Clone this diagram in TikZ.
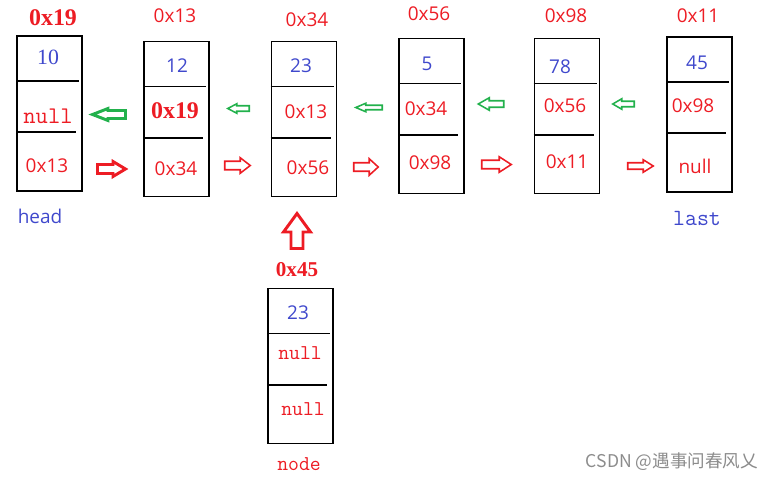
\documentclass[tikz,border=0pt]{standalone}
\usepackage{fontspec}
\setmainfont{Liberation Serif}
\setsansfont{Open Sans}
\newfontfamily\simfont{Latin Modern Mono}
\newfontfamily\cjk{Noto Sans CJK SC}
\usetikzlibrary{positioning}
\definecolor{pred}{RGB}{237,28,36}
\definecolor{pgreen}{RGB}{34,177,76}
\definecolor{pblue}{RGB}{63,72,204}
\tikzset{
	box/.style={draw,line width=1.3pt,minimum width=1.625cm,minimum height=3.875cm,inner sep=0},
	sep/.style={line width=1.3pt},
	val/.style={font=\sffamily\fontsize{13.5}{15}\selectfont,text=pblue},
	addr/.style={font=\sffamily\fontsize{13.5}{15}\selectfont,text=pred},
	baddr/.style={font=\bfseries\fontsize{17}{19}\selectfont,text=pred},
	word/.style={font=\simfont\fontsize{17}{19}\selectfont},
	back/.style={draw=pgreen,line width=1.1pt,xscale=-1},
	next/.style={draw=pred,line width=1.1pt},
	fat/.style={line width=2.1pt}
}
% block arrow: style, centre, length, head width, shaft width, head length
\newcommand{\blkarrow}[6]{%
	\begin{scope}[shift={#2}]
		\draw[#1] (-#3/2,-#5/2) -- (#3/2-#6,-#5/2) -- (#3/2-#6,-#4/2) -- (#3/2,0)
			-- (#3/2-#6,#4/2) -- (#3/2-#6,#5/2) -- (-#3/2,#5/2) -- cycle;
	\end{scope}}
\begin{document}
\begin{tikzpicture}[x=0.025cm,y=-0.025cm]
	\useasboundingbox (0,0) rectangle (782,480);
	%%%nodes of the list
	\node[box] (b1) at (49.5,113.5) {};
	\node[box] (b2) at (176.5,119) {};
	\node[box] (b3) at (304,119) {};
	\node[box] (b4) at (431.5,116) {};
	\node[box] (b5) at (567,116) {};
	\node[box] (b6) at (699.5,114.5) {};
	\node[box] (b7) at (300.5,366) {};
	\foreach \b in {b1,b2,b3,b4,b5,b6,b7}{
		\draw[sep] ([yshift=-1.15cm]\b.north west) -- ++(63,0);
		\draw[sep] ([yshift=-2.425cm]\b.north west) -- ++(60,0);
	}

	%%%addresses
	\node[baddr] (a1) at (53,18) {0x19};
	\node[addr] (a2) at (175,16) {0x13};
	\node[addr] (a3) at (307,20) {0x34};
	\node[addr] (a4) at (429,14) {0x56};
	\node[addr] (a5) at (566,16) {0x98};
	\node[addr] (a6) at (698,16) {0x11};
	\node[baddr,font=\bfseries\fontsize{15}{17}\selectfont] (a7) at (297,270) {0x45};

	%%%cells
	\node[text=pblue,font=\fontsize{15.5}{17}\selectfont] (d1) at (48,57) {10};
	\node[word,text=pred] (p1) at (48,116) {null};
	\node[addr] (n1) at (47,166) {0x13};
	\node[val] (d2) at (177,66) {12};
	\node[baddr] (p2) at (175,111) {0x19};
	\node[addr] (n2) at (176,169) {0x34};
	\node[val] (d3) at (301,66) {23};
	\node[addr] (p3) at (306,112) {0x13};
	\node[addr] (n3) at (308,168) {0x56};
	\node[val] (d4) at (427,64) {5};
	\node[addr] (p4) at (426,109) {0x34};
	\node[addr] (n4) at (430,163) {0x98};
	\node[val] (d5) at (560,67) {78};
	\node[addr] (p5) at (565,106) {0x56};
	\node[addr] (n5) at (567,162) {0x11};
	\node[val] (d6) at (697,63) {45};
	\node[addr] (p6) at (693,106) {0x98};
	\node[addr] (n6) at (695,166) {null};
	\node[val] (d7) at (298,313) {23};
	\node[word,text=pred,font=\simfont\fontsize{15}{17}\selectfont] (p7) at (300,353) {null};
	\node[word,text=pred,font=\simfont\fontsize{15}{17}\selectfont] (n7) at (303,409) {null};

	%%%names
	\node[val] (head) at (40,216) {head};
	\node[word,text=pblue,font=\simfont\fontsize{16.5}{18}\selectfont] (last) at (697,218) {last};
	\node[word,text=pred,font=\simfont\fontsize{15}{17}\selectfont] (node) at (299,464) {node};

	%%%block arrows
	\blkarrow{back,fat}{(109,114.5)}{33}{12}{8}{15.5}
	\blkarrow{back}{(238.5,108.5)}{21.5}{9.5}{5.5}{9}
	\blkarrow{back}{(369,107.5)}{26.5}{8.5}{4.5}{10}
	\blkarrow{back}{(491,104)}{25.5}{12.5}{6.5}{11}
	\blkarrow{back}{(623.5,104)}{21.5}{10.5}{5.5}{9}
	\blkarrow{next,fat}{(111.5,169)}{28}{15}{9}{12.5}
	\blkarrow{next}{(237.5,165.5)}{25.5}{15.5}{8.5}{10}
	\blkarrow{next}{(366,167)}{24.5}{16.5}{8.5}{9}
	\blkarrow{next}{(496.5,164.5)}{29.5}{15.5}{8.5}{12}
	\blkarrow{next}{(640.5,166)}{25.5}{12.5}{6.5}{10}
	\blkarrow{next,fat,rotate=90}{(297,231)}{35}{27}{12}{18.5}

	\node[font=\cjk\fontsize{12.5}{14}\selectfont,text=black!45] (mark) at (672,462) {CSDN @遇事问春风乂};
\end{tikzpicture}
\end{document}
